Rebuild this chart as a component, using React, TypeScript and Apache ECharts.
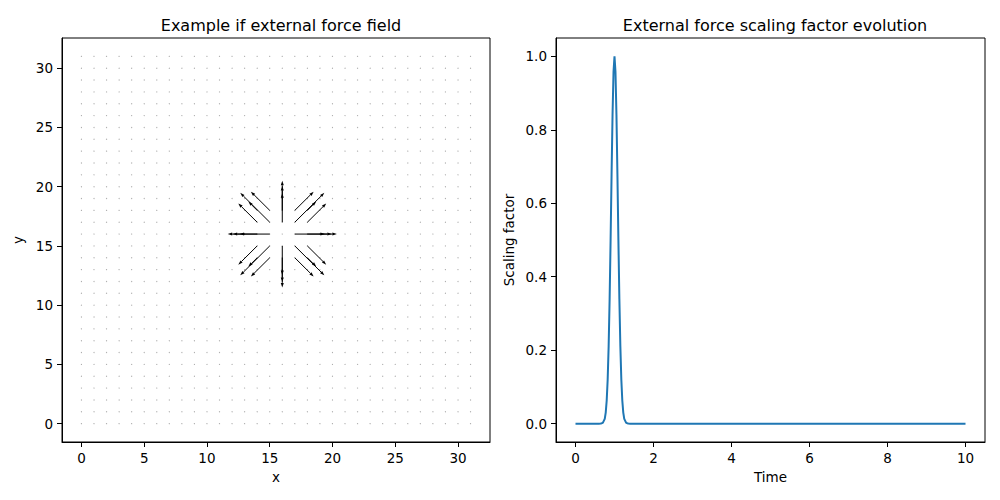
import React, { useEffect, useRef } from "react";
import * as echarts from "echarts";

// quiver grid (0..31 in both directions)
const gridCoords = Array.from({ length: 32 }, (_, i) => i);

// non-zero arrows: [x, y, u, v]
const arrows: number[][] = [
  [15, 16, -3.35, 0], [14, 16, -1.95, 0], [13, 16, -0.4, 0],
  [17, 16, 3.35, 0], [18, 16, 1.95, 0], [19, 16, 0.4, 0],
  [16, 17, 0, 3.5], [16, 18, 0, 2.05], [16, 19, 0, 0.45],
  [16, 15, 0, -3.5], [16, 14, 0, -2.05], [16, 13, 0, -0.45],
  [15, 17, -2.35, 2.48], [14, 17, -1.5, 1.58], [15, 18, -1.5, 1.58], [14, 18, -0.7, 0.74],
  [17, 17, 2.35, 2.48], [18, 17, 1.5, 1.58], [17, 18, 1.5, 1.58], [18, 18, 0.7, 0.74],
  [15, 15, -2.35, -2.48], [14, 15, -1.5, -1.58], [15, 14, -1.5, -1.58], [14, 14, -0.7, -0.74],
  [17, 15, 2.35, -2.48], [18, 15, 1.5, -1.58], [17, 14, 1.5, -1.58], [18, 14, 0.7, -0.74],
];

// scaling factor over time
const timeValues = [
  0, 0.6, 0.65, 0.7, 0.75, 0.775, 0.8, 0.825, 0.85, 0.875, 0.9, 0.925, 0.95, 0.975, 1.0,
  1.025, 1.05, 1.075, 1.1, 1.125, 1.15, 1.175, 1.2, 1.225, 1.25, 1.3, 1.35, 1.4, 10,
];
const scaleValues = [
  0, 0, 0.0002, 0.002, 0.013, 0.03, 0.063, 0.12, 0.211, 0.339, 0.5, 0.678, 0.841, 0.958, 1.0,
  0.958, 0.841, 0.678, 0.5, 0.339, 0.211, 0.12, 0.063, 0.03, 0.013, 0.002, 0.0002, 0, 0,
];

const fieldTicks = [0, 5, 10, 15, 20, 25, 30];
const timeTicks = [0, 2, 4, 6, 8, 10];
const scaleTicks = [0, 0.2, 0.4, 0.6, 0.8, 1.0];

const FONT = "DejaVu Sans";

const App: React.FC = () => {
  const chartRef = useRef<HTMLDivElement>(null);

  useEffect(() => {
    if (!chartRef.current) return;
    const chart = echarts.init(chartRef.current, null, { renderer: "svg" });

    const dots: number[][] = [];
    gridCoords.forEach((x) => gridCoords.forEach((y) => dots.push([x, y])));

    const renderArrow = (params: any, api: any) => {
      const x = api.value(0);
      const y = api.value(1);
      const p0 = api.coord([x, y]);
      const p1 = api.coord([x + api.value(2), y + api.value(3)]);
      const dx = p1[0] - p0[0];
      const dy = p1[1] - p0[1];
      const len = Math.hypot(dx, dy);
      const ux = dx / len;
      const uy = dy / len;
      const hl = Math.min(4.5, len);
      const hw = 1.5;
      const bx = p1[0] - ux * hl;
      const by = p1[1] - uy * hl;
      return {
        type: "group",
        children: [
          {
            type: "line",
            shape: { x1: p0[0], y1: p0[1], x2: bx, y2: by },
            style: { stroke: "#000", lineWidth: 1 },
          },
          {
            type: "polygon",
            shape: {
              points: [
                [p1[0], p1[1]],
                [bx - uy * hw, by + ux * hw],
                [bx + uy * hw, by - ux * hw],
              ],
            },
            style: { fill: "#000" },
          },
        ],
      };
    };

    const axisCommon = {
      axisLine: { show: true, onZero: false, lineStyle: { color: "#000", width: 1 } },
      axisTick: { show: true, length: 5, lineStyle: { color: "#000", width: 1 } },
      splitLine: { show: false },
      nameTextStyle: { color: "#000", fontSize: 13.5, fontFamily: FONT },
    };
    const labelCommon = { color: "#000", fontSize: 13.5, fontFamily: FONT, margin: 9 };

    chart.setOption({
      animation: false,
      title: [
        {
          text: "Example if external force field",
          left: 276,
          top: 12,
          textAlign: "center",
          textStyle: { fontSize: 16, fontWeight: "normal", color: "#000", fontFamily: FONT },
        },
        {
          text: "External force scaling factor evolution",
          left: 770,
          top: 12,
          textAlign: "center",
          textStyle: { fontSize: 16, fontWeight: "normal", color: "#000", fontFamily: FONT },
        },
      ],
      grid: [
        { left: 62, top: 38, width: 428, height: 404, show: true, borderColor: "#000", borderWidth: 1 },
        { left: 556, top: 38, width: 429, height: 404, show: true, borderColor: "#000", borderWidth: 1 },
      ],
      xAxis: [
        {
          ...axisCommon,
          type: "value",
          gridIndex: 0,
          min: -1.55,
          max: 32.55,
          name: "x",
          nameLocation: "middle",
          nameGap: 28,
          axisTick: { ...axisCommon.axisTick, customValues: fieldTicks },
          axisLabel: { ...labelCommon, customValues: fieldTicks },
        },
        {
          ...axisCommon,
          type: "value",
          gridIndex: 1,
          min: -0.5,
          max: 10.5,
          name: "Time",
          nameLocation: "middle",
          nameGap: 28,
          axisTick: { ...axisCommon.axisTick, customValues: timeTicks },
          axisLabel: { ...labelCommon, customValues: timeTicks },
        },
      ],
      yAxis: [
        {
          ...axisCommon,
          type: "value",
          gridIndex: 0,
          min: -1.55,
          max: 32.55,
          name: "y",
          nameLocation: "middle",
          nameGap: 37,
          axisTick: { ...axisCommon.axisTick, customValues: fieldTicks },
          axisLabel: { ...labelCommon, customValues: fieldTicks },
        },
        {
          ...axisCommon,
          type: "value",
          gridIndex: 1,
          min: -0.05,
          max: 1.05,
          name: "Scaling factor",
          nameLocation: "middle",
          nameGap: 40,
          axisTick: { ...axisCommon.axisTick, customValues: scaleTicks },
          axisLabel: {
            ...labelCommon,
            customValues: scaleTicks,
            formatter: (v: number) => v.toFixed(1),
          },
        },
      ],
      series: [
        {
          type: "scatter",
          xAxisIndex: 0,
          yAxisIndex: 0,
          symbol: "circle",
          symbolSize: 1.2,
          itemStyle: { color: "#999" },
          silent: true,
          data: dots,
        },
        {
          type: "custom",
          xAxisIndex: 0,
          yAxisIndex: 0,
          renderItem: renderArrow,
          silent: true,
          data: arrows,
          z: 3,
        },
        {
          type: "line",
          xAxisIndex: 1,
          yAxisIndex: 1,
          showSymbol: false,
          smooth: false,
          lineStyle: { color: "#1f77b4", width: 2 },
          data: timeValues.map((t, i) => [t, scaleValues[i]]),
        },
      ],
    });

    return () => {
      chart.dispose();
    };
  }, []);

  return (
    <div
      ref={chartRef}
      style={{ position: "fixed", left: 0, top: 0, width: "1000px", height: "500px", background: "#fff" }}
    />
  );
};

export default App;
